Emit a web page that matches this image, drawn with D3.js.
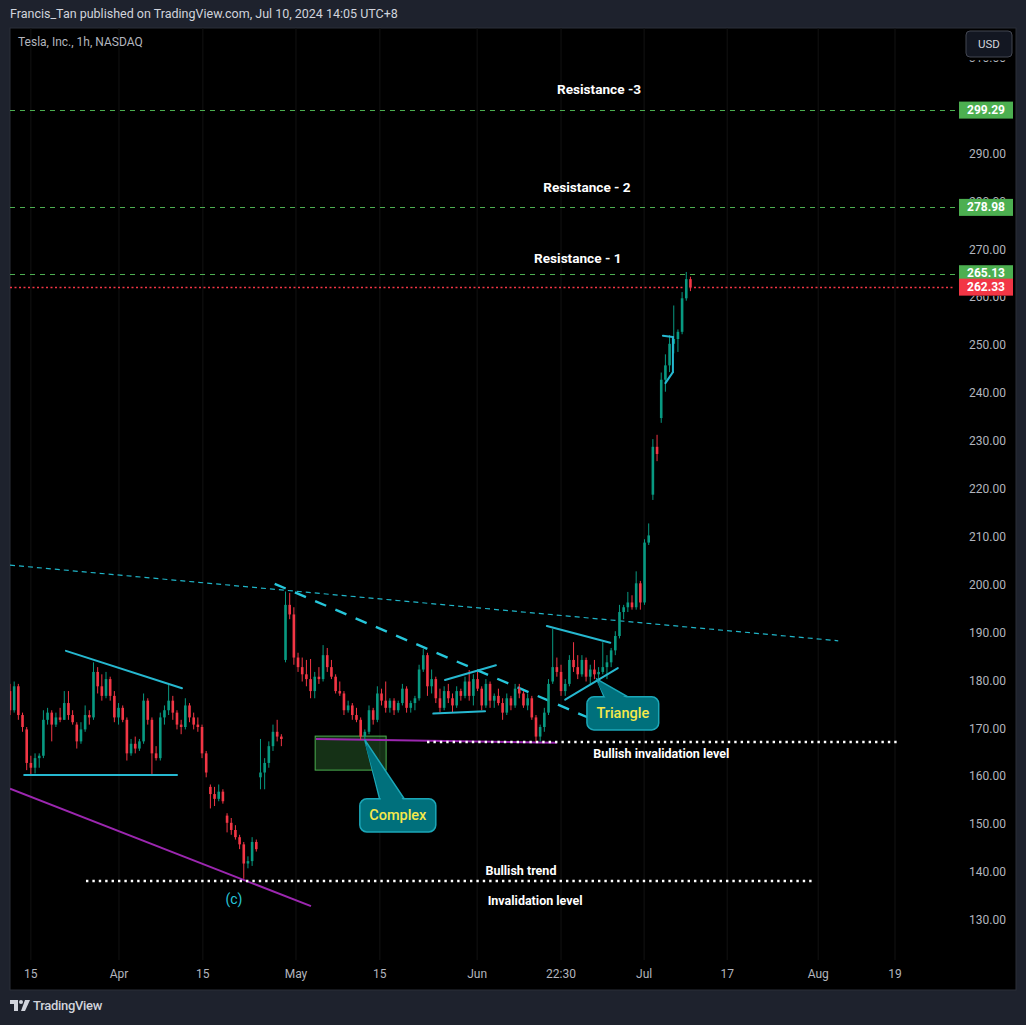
<!DOCTYPE html>
<html>
<head>
<meta charset="utf-8">
<script src="https://cdn.jsdelivr.net/npm/d3@7.9.0/dist/d3.min.js"></script>
<style>
  html, body { margin: 0; padding: 0; background: #1e222d; }
  svg { display: block; font-family: Roboto, "Open Sans", sans-serif; }
</style>
</head>
<body>
<svg id="chart"></svg>
<script>
// --- Data: half-session candles [open, high, low, close], TSLA 1h ---
const ohlc = [
  [178,179.5,173,174],[174,180,173.5,179],[179,179.5,172,173],[173,173.5,169.5,170.5],
  [170,170.5,161.5,163],[163,164.5,160.5,162],[162,165,160.8,164],[164,165,162,164.5],
  [164.5,174,164,172],[172,174.5,171,173.5],[173.5,174,167.5,171],[171,173.5,170.5,172.5],
  [172.5,174.5,171.5,172],[172,178,172,175.5],[175.5,178,172,173],[173,174,171,171.5],
  [171,171.5,166,167.5],[167.5,171.5,167,170],[170,175,169.5,173],[173,174,171,172.5],
  [172.5,184,172,182],[182,183,177.5,179],[179,181.5,176,177],[177,182,176.5,180.5],
  [180.5,181,176,177],[177,178,171.5,172.5],[172.5,175.5,171,174.5],[174.5,175,171.5,172],
  [172,172.5,163.5,165],[165,168,164.5,167],[167,168.5,165,166],[166,168,165.5,167.5],
  [167.5,177.5,167,176],[176,176.5,171,172],[172,172.5,160.7,165],[165,166.5,163.5,164],
  [164,173.5,163.5,172.5],[172.5,175,171,174],[174,179.3,173,176],[176,177,172,173.5],
  [173.5,174,170,171],[171,172,169,170.5],[170.5,176.5,170,175],[175,175.5,171.5,172.5],
  [172.5,173.5,170,171],[171,172.5,169.5,170.5],[170.5,171,164,165],[165,165.5,160,161],
  [158,158.5,153.5,156.5],[156.5,158,154,155.5],[155.5,158.5,155,157],[157,157.5,154.5,155],
  [152,152.5,148.5,150.5],[150.5,151.5,148,149],[149,150,147,147.5],[147.5,148,145,146],
  [146,146.5,138.8,142],[142,143.5,141,142.5],[142.5,147.5,141.5,146.5],[146.5,147,144.5,145],
  [160,168,157.5,161],[161,164,157.5,163],[163,167.5,162,166.5],[166.5,171,165.5,169.5],
  [169.5,172,167.5,168.5],[168.5,169,166.5,168],[184.5,198.8,184,196],[196,198.5,193,194],
  [194,195.5,183.5,185],[185,186,182,183],[183,185,180,181.5],[181.5,184.5,179,180.5],
  [180.5,184.7,176.5,178],[178,182,176.5,181],[181,183,179.5,180.5],[180.5,187.6,180,185.5],
  [185.5,187,182,183],[183,184.5,180.5,181],[181,181.5,177.5,178],[178,180,177,177.5],
  [177.5,178,173,174],[174,176,173.5,175],[175,175.5,172,173],[173,174.5,171.5,172],
  [172,172.5,167.8,168.5],[168.5,170,168,169.5],[169.5,175,169,174],[174,174.5,171,172],
  [172,179,171.5,177.5],[177.5,178.5,175,176],[176,180,173.5,174.5],[174.5,176.5,173.5,176],
  [176,176.5,173,174],[174,176,173.5,175.5],[175.5,179.5,175,178.5],[178.5,179,173.5,174.5],
  [174.5,176,173.5,175.5],[175.5,177,174,176.5],[176.5,183.5,176,182.5],[182.5,186.8,182,185.5],
  [185.5,186,177,179],[179,182.5,177.5,180.5],[180.5,181,175.5,176.5],[176.5,178.5,173.6,174.5],
  [174.5,179,174,178],[178,179.5,175.5,176.5],[176.5,177.5,173.5,175],[175,179,174.5,178],
  [178,178.5,176,177],[177,181,176.5,180],[180,182.4,176,177],[177,181.5,175,180.5],
  [180.5,182,178,178.5],[178.5,179,174,175],[175,180.5,174.5,179.5],[179.5,180,174.5,176],
  [176,177.5,174.5,177],[177,178.5,175,175.5],[175.5,176.5,172,173.5],[173.5,177.5,173,176.5],
  [176.5,177,174,175],[175,179.5,174.5,178.5],[178.5,179.5,176.5,177.5],[177.5,178,174.5,175],
  [175,177.5,174,176.5],[176.5,177,172,172.5],[172.5,173,167.4,168.5],[168.5,171,167.5,170.5],
  [170.5,174.5,169.5,173.5],[173.5,180.5,173,179.5],[180,191,179.5,183],[183,185,181,182],
  [182,183.5,177,178],[178,180.5,177,179.5],[179.5,185.5,179,184.5],[184.5,188.2,182,183],
  [183,185.5,180.5,181.5],[181.5,185.5,181,184.5],[184.5,185,180,181],[181,183.5,179.5,182.5],
  [182.5,184.5,180.5,181.5],[181.5,183,180.5,182],[182,188.2,181.5,183],[183,185.5,180.5,184],
  [184,187,183,186.5],[186.5,190.5,185.5,189.5],[189.5,196,189,194.5],[194.5,196,193,195.5],
  [195.5,198.7,194.5,196.5],[196.5,198,195,195.5],[195.5,203,195,200.5],[200.5,201,195,196.5],
  [196.5,209.7,196,209],[209,213,208.5,210.5],[219,230.6,217.9,229],[229,231.5,226,227.5],
  [235,244.5,234,243],[243,248.3,240.5,246],[246,252.3,244.6,250.5],[250.5,258.5,248.5,251.5],
  [251.5,253.5,248.8,253],[253,261.3,252.5,260],[260,265.5,259.5,264],[264,264.5,261.5,262.33]
];

// time axis (positions in trading-day units)
const timeTickPos = [2, 12.55, 22.6, 33.75, 43.8, 55.45, 65.5, 75.45, 85.4, 96.3, 105.5];
const timeTickLabels = ["15", "Apr", "15", "May", "15", "Jun", "22:30", "Jul", "17", "Aug", "19"];

// price axis
const priceTicks = d3.range(130, 320, 10);

// levels
const resistLevels = [299.29, 278.98, 265.13];
const lastPrice = 262.33;
const resistLabels = [
  { text: "Resistance -3", t: 70.05, p: 303.5 },
  { text: "Resistance - 2", t: 68.6, p: 283.0 },
  { text: "Resistance - 1", t: 67.5, p: 268.2 }
];

// drawings, [t, price]
const trendThin = [[-0.5, 204.3], [98.7, 188.5]];
const trendThick = [[31.2, 200.4], [70.6, 171.1]];
const solidCyan = [
  [[6.2, 186.4], [20.1, 178.6]],
  [[1.2, 160.5], [19.5, 160.5]],
  [[51.6, 180.3], [57.7, 183.4]],
  [[50.2, 173.3], [56.4, 173.8]],
  [[63.8, 191.6], [71.4, 188.1]],
  [[66.0, 176.2], [72.3, 182.8]],
  [[77.7, 252.2], [78.9, 251.9]],
  [[78.9, 251.9], [78.9, 244.6]],
  [[78.0, 242.3], [78.9, 244.6]]
];
const purpleLines = [
  [[-0.5, 157.6], [35.55, 133.1]],
  [[36.15, 168.0], [65.0, 167.2]]
];
const dottedLevels = [
  { p: 167.37, t0: 49.45, t1: 105.9 },
  { p: 138.35, t0: 8.6, t1: 95.8 }
];
const whiteNotes = [
  { text: "Bullish invalidation level", t: 77.5, p: 164.7 },
  { text: "Bullish trend", t: 60.7, p: 140.2 },
  { text: "Invalidation level", t: 62.4, p: 134.0 }
];
const complexBox = { t0: 36.05, t1: 44.55, p0: 168.6, p1: 161.5 };
const callouts = [
  { text: "Complex", t0: 41.4, t1: 50.5, p0: 155.5, p1: 148.6, tip: [42.0, 167.8], base: [43.8, 46.8] },
  { text: "Triangle", t0: 68.6, t1: 77.2, p0: 176.8, p1: 169.9, tip: [69.8, 180.5], base: [70.7, 73.7] }
];

// --- Setup ---
const W = 1026, H = 1025;
const paneL = 10, paneT = 28, paneR = 1016, paneB = 990;
const plotR = 955, plotB = 960;

const svg = d3.select("#chart").attr("width", W).attr("height", H);
svg.append("rect").attr("width", W).attr("height", H).attr("fill", "#1e222d");

const x = d3.scaleLinear().domain([-0.5, 105.5]).range([10, 895]);
const y = d3.scaleLinear().domain([130, 310]).range([921, 58.8]);

// header
svg.append("text").attr("x", 10).attr("y", 18)
  .attr("fill", "#d1d4dc").attr("font-size", 12.5)
  .text("Francis_Tan published on TradingView.com, Jul 10, 2024 14:05 UTC+8");

// chart pane
svg.append("rect").attr("x", paneL).attr("y", paneT)
  .attr("width", paneR - paneL).attr("height", paneB - paneT)
  .attr("fill", "#000").attr("stroke", "#2a2e39");

const defs = svg.append("defs");
defs.append("clipPath").attr("id", "plotClip")
  .append("rect").attr("x", paneL).attr("y", paneT)
  .attr("width", plotR - paneL).attr("height", plotB - paneT);

const plot = svg.append("g").attr("clip-path", "url(#plotClip)");

// faint vertical grid
plot.append("g").selectAll("line").data(timeTickPos).join("line")
  .attr("x1", d => x(d)).attr("x2", d => x(d))
  .attr("y1", paneT).attr("y2", plotB)
  .attr("stroke", "#121212");

svg.append("text").attr("x", 18).attr("y", 46)
  .attr("fill", "#b2b5be").attr("font-size", 12)
  .text("Tesla, Inc., 1h, NASDAQ");

// resistance levels
plot.append("g").selectAll("line").data(resistLevels).join("line")
  .attr("x1", paneL).attr("x2", plotR)
  .attr("y1", d => Math.round(y(d)) + 0.5).attr("y2", d => Math.round(y(d)) + 0.5)
  .attr("stroke", "#4caf50").attr("stroke-dasharray", "5,5");

plot.append("line")
  .attr("x1", paneL).attr("x2", plotR)
  .attr("y1", Math.round(y(lastPrice)) + 0.5).attr("y2", Math.round(y(lastPrice)) + 0.5)
  .attr("stroke", "#f23645").attr("stroke-width", 1.3).attr("stroke-dasharray", "2,2.5");

plot.append("g").selectAll("text").data(resistLabels).join("text")
  .attr("x", d => x(d.t)).attr("y", d => y(d.p))
  .attr("text-anchor", "middle").attr("dominant-baseline", "middle")
  .attr("fill", "#ffffff").attr("font-size", 13.6).attr("font-weight", "bold")
  .text(d => d.text);

// green zone
plot.append("rect")
  .attr("x", x(complexBox.t0)).attr("y", y(complexBox.p0))
  .attr("width", x(complexBox.t1) - x(complexBox.t0))
  .attr("height", y(complexBox.p1) - y(complexBox.p0))
  .attr("fill", "rgba(76,175,80,0.28)").attr("stroke", "#4caf50").attr("stroke-width", 1);

// trend lines
const line = d3.line().x(d => x(d[0])).y(d => y(d[1]));
plot.append("path").attr("d", line(trendThin))
  .attr("fill", "none").attr("stroke", "#1fb5c8").attr("stroke-width", 1.2)
  .attr("stroke-dasharray", "5,4");
plot.append("path").attr("d", line(trendThick))
  .attr("fill", "none").attr("stroke", "#26c6da").attr("stroke-width", 2.4)
  .attr("stroke-dasharray", "12,10");

plot.append("g").selectAll("path").data(purpleLines).join("path")
  .attr("d", line).attr("fill", "none")
  .attr("stroke", "#9c27b0").attr("stroke-width", 2);

// candles
const cw = 2.6;
const candles = plot.append("g").selectAll("g").data(ohlc).join("g")
  .attr("transform", (d, i) => `translate(${x(i * 0.5 - 0.5)},0)`);
const col = d => d[3] >= d[0] ? "#089981" : "#f23645";
candles.append("line")
  .attr("y1", d => y(d[1])).attr("y2", d => y(d[2]))
  .attr("stroke", col).attr("stroke-width", 1);
candles.append("rect")
  .attr("x", -cw / 2).attr("width", cw)
  .attr("y", d => y(Math.max(d[0], d[3])))
  .attr("height", d => Math.max(1, Math.abs(y(d[0]) - y(d[3]))))
  .attr("fill", col);

// cyan pattern lines
plot.append("g").selectAll("path").data(solidCyan).join("path")
  .attr("d", line).attr("fill", "none")
  .attr("stroke", "#26b8d0").attr("stroke-width", 2).attr("stroke-linecap", "round");

// dotted levels
plot.append("g").selectAll("line").data(dottedLevels).join("line")
  .attr("x1", d => x(d.t0)).attr("x2", d => x(d.t1))
  .attr("y1", d => y(d.p)).attr("y2", d => y(d.p))
  .attr("stroke", "#ffffff").attr("stroke-width", 2.4).attr("stroke-dasharray", "2.4,4");

plot.append("g").selectAll("text").data(whiteNotes).join("text")
  .attr("x", d => x(d.t)).attr("y", d => y(d.p))
  .attr("text-anchor", "middle").attr("dominant-baseline", "middle")
  .attr("fill", "#ffffff").attr("font-size", 12.5).attr("font-weight", "bold")
  .text(d => d.text);

plot.append("text").attr("x", x(26.33)).attr("y", y(134.4))
  .attr("text-anchor", "middle").attr("dominant-baseline", "middle")
  .attr("fill", "#26c6da").attr("font-size", 14).text("(c)");

// callouts
const cg = plot.append("g").selectAll("g").data(callouts).join("g");
cg.append("path")
  .attr("d", d => `M${x(d.base[0])},${y(d.p0) + 1}L${x(d.tip[0])},${y(d.tip[1])}L${x(d.base[1])},${y(d.p0) + 1}Z`)
  .attr("fill", "#00707c").attr("stroke", "#1ba7b8").attr("stroke-width", 1.5);
cg.append("rect")
  .attr("x", d => x(d.t0)).attr("y", d => y(d.p0))
  .attr("width", d => x(d.t1) - x(d.t0)).attr("height", d => y(d.p1) - y(d.p0))
  .attr("rx", 7).attr("fill", "#00707c").attr("stroke", "#1ba7b8").attr("stroke-width", 1.5);
cg.append("path")
  .attr("d", d => `M${x(d.base[0]) + 1.5},${y(d.p0) + 2}L${x(d.tip[0])},${y(d.tip[1]) + 3}L${x(d.base[1]) - 1.5},${y(d.p0) + 2}Z`)
  .attr("fill", "#00707c");
cg.append("text")
  .attr("x", d => (x(d.t0) + x(d.t1)) / 2).attr("y", d => (y(d.p0) + y(d.p1)) / 2 + 0.5)
  .attr("text-anchor", "middle").attr("dominant-baseline", "middle")
  .attr("fill", "#f5e94a").attr("font-size", 14.5).attr("font-weight", 500).text(d => d.text);

// price axis (ticks under a tag are clipped to the part that stays visible)
const priceTags = resistLevels.map(v => ({ v, c: "#4caf50" })).concat([{ v: lastPrice, c: "#f23645" }]);
const tagH = 17;
const tickH = 14;
const freeTicks = priceTicks.filter(p => p < 310 &&
  priceTags.every(t => Math.abs(y(t.v) - y(p)) > (tagH + tickH) / 2));
const partTicks = priceTicks.filter(p => !freeTicks.includes(p) && p !== 300);

svg.append("g").selectAll("text").data(freeTicks).join("text")
  .attr("x", 1006).attr("y", d => y(d))
  .attr("text-anchor", "end").attr("dominant-baseline", "middle")
  .attr("fill", "#b2b5be").attr("font-size", 12)
  .text(d => d.toFixed(2));

// visible slivers of ticks that sit behind a tag or the USD button
const sliverBand = p => {
  if (p === 310) return [y(p) + 1.5, y(p) + 7];
  const tag = priceTags.find(t => Math.abs(y(t.v) - y(p)) <= (tagH + tickH) / 2);
  const ty = y(tag.v);
  return ty > y(p) ? [y(p) - 7, ty - tagH / 2] : [ty + tagH / 2, y(p) + 7];
};
partTicks.forEach((p, i) => {
  const [a, b] = sliverBand(p);
  defs.append("clipPath").attr("id", "sliver" + i)
    .append("rect").attr("x", 955).attr("y", a).attr("width", 61).attr("height", Math.max(0, b - a));
  svg.append("g").attr("clip-path", `url(#sliver${i})`).append("text")
    .attr("x", 1006).attr("y", y(p))
    .attr("text-anchor", "end").attr("dominant-baseline", "middle")
    .attr("fill", "#b2b5be").attr("font-size", 12)
    .text(p.toFixed(2));
});

const tags = svg.append("g").selectAll("g").data(priceTags).join("g")
  .attr("transform", d => `translate(0,${y(d.v)})`);
tags.append("rect").attr("x", 959).attr("y", -tagH / 2).attr("width", 54).attr("height", tagH).attr("fill", d => d.c);
tags.append("text").attr("x", 986).attr("y", 0.5)
  .attr("text-anchor", "middle").attr("dominant-baseline", "middle")
  .attr("fill", "#fff").attr("font-size", 12).attr("font-weight", "bold")
  .text(d => d.v.toFixed(2));

// USD button
svg.append("rect").attr("x", 966).attr("y", 31).attr("width", 46).attr("height", 26).attr("rx", 4)
  .attr("fill", "#131722").attr("stroke", "#434651");
svg.append("text").attr("x", 989).attr("y", 44.5)
  .attr("text-anchor", "middle").attr("dominant-baseline", "middle")
  .attr("fill", "#d1d4dc").attr("font-size", 11.5).text("USD");

// time axis
svg.append("g").selectAll("text").data(timeTickPos).join("text")
  .attr("x", d => x(d)).attr("y", 975)
  .attr("text-anchor", "middle").attr("dominant-baseline", "middle")
  .attr("fill", "#b2b5be").attr("font-size", 12)
  .text((d, i) => timeTickLabels[i]);

// footer logo
const logo = svg.append("g").attr("transform", "translate(10,1000)").attr("fill", "#d1d4dc");
logo.append("path").attr("d", "M0,0H8V11H4V4H0Z");
logo.append("circle").attr("cx", 11).attr("cy", 2).attr("r", 2);
logo.append("path").attr("d", "M15,0H20L15,11H11Z");
svg.append("text").attr("x", 33).attr("y", 1007).attr("dominant-baseline", "middle")
  .attr("fill", "#d1d4dc").attr("font-size", 13).attr("font-weight", 500)
  .attr("letter-spacing", -0.3).text("TradingView");
</script>
</body>
</html>
